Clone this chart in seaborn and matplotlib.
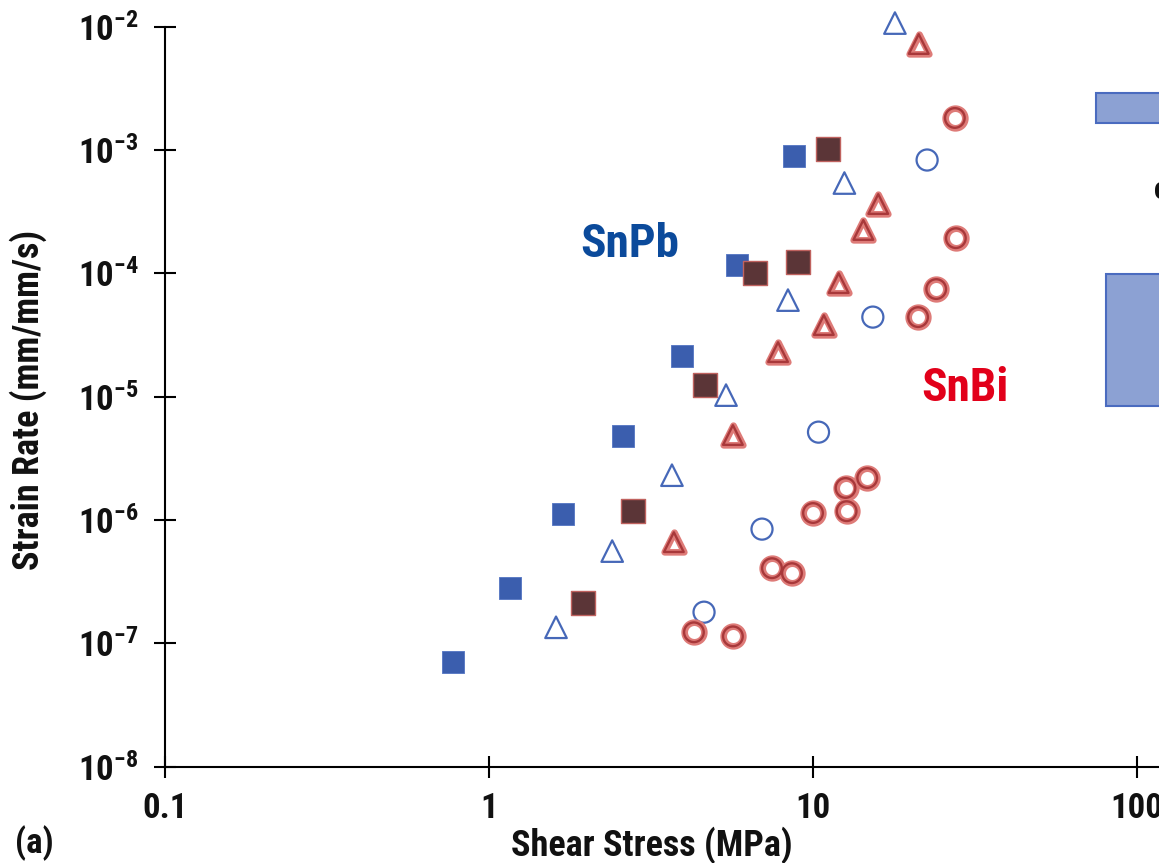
import numpy as np
import pandas as pd
import matplotlib
matplotlib.use("Agg")
import matplotlib.pyplot as plt
import seaborn as sns
from matplotlib import font_manager
from matplotlib.patches import Rectangle
from matplotlib.ticker import FixedLocator, FixedFormatter, NullLocator

# ---- SnPb (blue) ----
snpb_sq_stress = [0.774, 1.16, 1.69, 2.59, 3.94, 5.83, 8.74]
snpb_sq_rate = [7.05e-8, 2.80e-7, 1.12e-6, 4.79e-6, 2.13e-5, 1.17e-4, 8.94e-4]

snpb_tri_stress = [1.61, 2.40, 3.67, 5.39, 8.37, 12.5, 17.9]
snpb_tri_rate = [1.35e-7, 5.60e-7, 2.31e-6, 1.03e-5, 6.07e-5, 5.40e-4, 1.07e-2]

snpb_circ_stress = [4.61, 6.96, 10.4, 15.3, 22.5]
snpb_circ_rate = [1.79e-7, 8.44e-7, 5.16e-6, 4.42e-5, 8.30e-4]

# ---- dark squares ----
dark_sq_stress = [1.95, 2.78, 4.64, 6.62, 8.99, 11.1]
dark_sq_rate = [2.12e-7, 1.18e-6, 1.24e-5, 1.00e-4, 1.24e-4, 1.02e-3]

# ---- SnBi (red) ----
snbi_tri_stress = [3.72, 5.66, 7.80, 10.8, 12.0, 14.3, 15.9, 21.2]
snbi_tri_rate = [6.62e-7, 4.89e-6, 2.30e-5, 3.81e-5, 8.34e-5, 2.25e-4, 3.65e-4, 7.24e-3]

snbi_circ_stress = [4.29, 5.66, 7.47, 8.61, 10.0, 12.7, 12.6, 14.7, 21.1, 24.0, 27.6, 27.4]
snbi_circ_rate = [1.23e-7, 1.14e-7, 4.07e-7, 3.71e-7, 1.14e-6, 1.18e-6, 1.82e-6,
                  2.19e-6, 4.42e-5, 7.46e-5, 1.93e-4, 1.82e-3]

x_ticks = [0.1, 1, 10, 100]
x_tick_labels = ["0.1", "1", "10", "100"]
y_exponents = [-8, -7, -6, -5, -4, -3, -2]


def pick_font(candidates):
    for name in candidates:
        try:
            font_manager.findfont(font_manager.FontProperties(family=name),
                                  fallback_to_default=False)
            return name
        except ValueError:
            continue
    return "DejaVu Sans"


sns.set_theme(style="white")
FONT = pick_font(["Liberation Sans Narrow", "Roboto Condensed",
                  "DejaVu Sans Condensed", "Liberation Sans"])
plt.rcParams["font.family"] = [FONT, "DejaVu Sans"]
plt.rcParams["font.weight"] = "bold"
plt.rcParams["mathtext.fontset"] = "custom"
plt.rcParams["mathtext.rm"] = f"{FONT}:bold"
plt.rcParams["mathtext.bf"] = f"{FONT}:bold"
plt.rcParams["mathtext.default"] = "regular"

W, H = 1159, 863
fig = plt.figure(figsize=(W / 100, H / 100), dpi=100)
left_px, right_px, top_px, bottom_px = 165, 1159, 26.7, 766.7
ax = fig.add_axes([left_px / W, 1 - bottom_px / H,
                   (right_px - left_px) / W, (bottom_px - top_px) / H])

x_right = 10 ** ((right_px - left_px) / 324.0 - 1)
ax.set_xscale("log")
ax.set_yscale("log")
ax.set_xlim(0.1, x_right)
ax.set_ylim(1e-8, 1e-2)


def frame(x, y):
    return pd.DataFrame({"stress": x, "rate": y})


blue = "#3B5EAE"
blue_edge = "#4668B8"
red_light = "#DE7B78"
red_dark = "#A8383A"

# blue filled squares
sns.scatterplot(data=frame(snpb_sq_stress, snpb_sq_rate), x="stress", y="rate",
                marker="s", s=250, color=blue, edgecolor="#5274C2", linewidth=0.6,
                ax=ax, clip_on=False, zorder=3)
# blue open triangles
sns.scatterplot(data=frame(snpb_tri_stress, snpb_tri_rate), x="stress", y="rate",
                marker="^", s=240, facecolor="none", edgecolor=blue_edge,
                linewidth=1.6, ax=ax, clip_on=False, zorder=3)
# blue open circles
sns.scatterplot(data=frame(snpb_circ_stress, snpb_circ_rate), x="stress", y="rate",
                marker="o", s=230, facecolor="none", edgecolor=blue_edge,
                linewidth=1.6, ax=ax, clip_on=False, zorder=3)
# dark filled squares
sns.scatterplot(data=frame(dark_sq_stress, dark_sq_rate), x="stress", y="rate",
                marker="s", s=290, color="#5B3537", edgecolor="#C0625F", linewidth=1.0,
                ax=ax, clip_on=False, zorder=4)
# red thick triangles and circles (light halo under a darker core line)
for xs, ys, mk in [(snbi_tri_stress, snbi_tri_rate, "^"),
                   (snbi_circ_stress, snbi_circ_rate, "o")]:
    d = frame(xs, ys)
    sns.scatterplot(data=d, x="stress", y="rate", marker=mk, s=200,
                    facecolor="white", edgecolor=red_light, linewidth=4.8,
                    ax=ax, clip_on=False, zorder=5)
    sns.scatterplot(data=d, x="stress", y="rate", marker=mk, s=200,
                    facecolor="none", edgecolor=red_dark, linewidth=1.7,
                    ax=ax, clip_on=False, zorder=6)

# axes styling
for side in ["top", "right"]:
    ax.spines[side].set_visible(False)
for side in ["left", "bottom"]:
    ax.spines[side].set_color("black")
    ax.spines[side].set_linewidth(1.5)

ax.xaxis.set_major_locator(FixedLocator(x_ticks))
ax.xaxis.set_major_formatter(FixedFormatter(x_tick_labels))
ax.xaxis.set_minor_locator(NullLocator())
y_ticks = [10.0 ** e for e in y_exponents]
ax.yaxis.set_major_locator(FixedLocator(y_ticks))
ax.yaxis.set_major_formatter(FixedFormatter(
    [r"$\mathregular{10^{%d}}$" % e for e in y_exponents]))
ax.yaxis.set_minor_locator(NullLocator())
ax.tick_params(axis="both", which="major", direction="inout", length=16.5,
               width=1.5, color="black", labelsize=25, labelcolor="#111111",
               bottom=True, left=True, top=False, right=False)
ax.tick_params(axis="x", pad=10)
ax.tick_params(axis="y", pad=11)
for lab in ax.get_xticklabels() + ax.get_yticklabels():
    lab.set_fontweight("bold")
ax.grid(False)

ax.set_xlabel("Shear Stress (MPa)", fontsize=26, fontweight="bold", color="#111111")
ax.set_ylabel("Strain Rate (mm/mm/s)", fontsize=26, fontweight="bold", color="#111111")
ax.xaxis.set_label_coords((652 - left_px) / (right_px - left_px),
                          (bottom_px - 826) / (bottom_px - top_px))
ax.yaxis.set_label_coords((47 - left_px) / (right_px - left_px),
                          (bottom_px - 400) / (bottom_px - top_px))

ax.text((630 - left_px) / (right_px - left_px), (bottom_px - 244) / (bottom_px - top_px),
        "SnPb", transform=ax.transAxes, ha="center", va="center",
        fontsize=34, fontweight="bold", color="#0B4A9B")
ax.text((965 - left_px) / (right_px - left_px), (bottom_px - 388) / (bottom_px - top_px),
        "SnBi", transform=ax.transAxes, ha="center", va="center",
        fontsize=34, fontweight="bold", color="#E2001A")

fig.text(15 / W, 1 - 861 / H, "(a)", ha="left", va="bottom",
         fontsize=25, fontweight="bold", color="#111111")

# partial legend boxes at the right edge
for x0, y_top, y_bot in [(1096, 93, 123), (1106, 274, 406)]:
    fig.add_artist(Rectangle((x0 / W, 1 - y_bot / H), 0.2, (y_bot - y_top) / H,
                             transform=fig.transFigure, facecolor="#8CA1D3",
                             edgecolor="#4A6BBF", linewidth=1.5, clip_on=False))
fig.text(1154 / W, 1 - 190 / H, "o", ha="left", va="center",
         fontsize=22, fontweight="bold", color="#111111")

fig.savefig("out.png", dpi=100)
